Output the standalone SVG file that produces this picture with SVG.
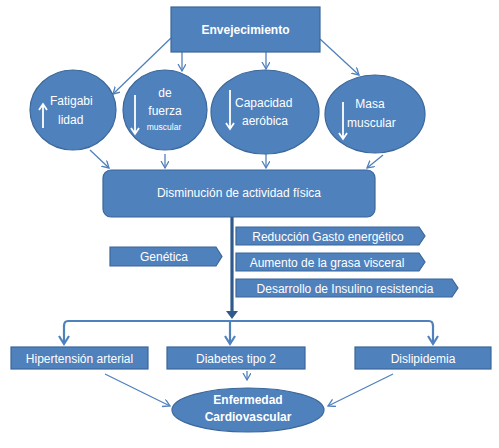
<svg xmlns="http://www.w3.org/2000/svg" width="499" height="448" viewBox="0 0 499 448">
<style>
.b{fill:#4F81BD;stroke:#3B679A;stroke-width:1.2}
.t{font-family:"Liberation Sans",Arial,sans-serif;fill:#fff;font-size:12px}
.bd{font-weight:bold}
.c{fill:none;stroke:#4F81BD;stroke-width:1.3}
.k{fill:none;stroke:#4F81BD;stroke-width:2.2}
.w{fill:none;stroke:#fff;stroke-width:1.8}
</style>
<defs>
<marker id="a" markerWidth="10" markerHeight="10" refX="7" refY="4" orient="auto" markerUnits="userSpaceOnUse"><path d="M0,0 L7,4 L0,8" fill="none" stroke="#4F81BD" stroke-width="1.3"/></marker>
<marker id="ab" markerWidth="14" markerHeight="14" refX="9" refY="6" orient="auto" markerUnits="userSpaceOnUse"><path d="M1,1 L9,6 L1,11" fill="none" stroke="#4F81BD" stroke-width="2.2"/></marker>
</defs>
<rect width="499" height="448" fill="#fff"/>
<g id="connectors">
<line class="c" x1="171" y1="38" x2="113" y2="94" marker-end="url(#a)"/>
<line class="c" x1="182" y1="52" x2="182" y2="71" marker-end="url(#a)"/>
<line class="c" x1="266" y1="52" x2="266" y2="69" marker-end="url(#a)"/>
<line class="c" x1="320" y1="39" x2="359" y2="75" marker-end="url(#a)"/>
<line class="c" x1="90" y1="150" x2="109" y2="168" marker-end="url(#a)"/>
<line class="c" x1="165" y1="154" x2="165" y2="168" marker-end="url(#a)"/>
<line class="c" x1="266" y1="154" x2="266" y2="168" marker-end="url(#a)"/>
<line class="c" x1="383" y1="155" x2="367" y2="168" marker-end="url(#a)"/>
<line x1="232" y1="217" x2="232" y2="312" stroke="#2F5B8C" stroke-width="3.2"/>
<path d="M226,311 L238,311 L232,319 Z" fill="#2F5B8C"/>
<path class="k" d="M64,326 Q64,321 68,321 H429 Q433,321 433,326"/>
<path class="k" d="M64,325 V344" marker-end="url(#ab)"/>
<path class="k" d="M230,321 V344" marker-end="url(#ab)"/>
<path class="k" d="M433,325 V344" marker-end="url(#ab)"/>
<line class="c" x1="105" y1="374" x2="170" y2="406" marker-end="url(#a)"/>
<line class="c" x1="247" y1="371" x2="247" y2="380" marker-end="url(#a)"/>
<line class="c" x1="393" y1="374" x2="328" y2="406" marker-end="url(#a)"/>
</g>
<g id="envejecimiento">
<rect class="b" x="171" y="7" width="149" height="45"/>
<text class="t bd" x="245.5" y="34" text-anchor="middle">Envejecimiento</text>
</g>
<g id="fatigabilidad">
<ellipse class="b" cx="73" cy="110" rx="43" ry="40"/>
<text class="t" x="50" y="105">Fatigabi</text>
<text class="t" x="58" y="124">lidad</text>
<path class="w" d="M43,128 V105 M39,110 L43,104 L47,110"/>
</g>
<g id="fuerza">
<ellipse class="b" cx="165" cy="110" rx="42" ry="40"/>
<text class="t" x="165" y="97" text-anchor="middle">de</text>
<text class="t" x="165" y="115" text-anchor="middle">fuerza</text>
<text class="t" x="164" y="130" text-anchor="middle" style="font-size:8.5px">muscular</text>
<path class="w" d="M135,95 V134 M131,128 L135,134 L139,128"/>
</g>
<g id="capacidad">
<ellipse class="b" cx="265" cy="112" rx="54" ry="42"/>
<text class="t" x="235" y="107">Capacidad</text>
<text class="t" x="242" y="125">aeróbica</text>
<path class="w" d="M230,90 V129 M226,123 L230,129 L234,123"/>
</g>
<g id="masa">
<ellipse class="b" cx="375" cy="114" rx="50" ry="39"/>
<text class="t" x="370" y="108" text-anchor="middle">Masa</text>
<text class="t" x="347" y="127">muscular</text>
<path class="w" d="M343,102 V139 M339,133 L343,139 L347,133"/>
</g>
<g id="disminucion">
<rect class="b" x="103" y="170" width="272" height="47" rx="8"/>
<text class="t" x="239" y="197" text-anchor="middle">Disminución de actividad física</text>
</g>
<g id="genetica">
<path class="b" d="M110,247 H216 L222,256.5 L216,266 H110 Z"/>
<text class="t" x="164" y="261" text-anchor="middle">Genética</text>
</g>
<g id="reduccion">
<path class="b" d="M236,227 H419 L425,236 L419,245 H236 Z"/>
<text class="t" x="328" y="240.5" text-anchor="middle">Reducción Gasto energético</text>
</g>
<g id="aumento">
<path class="b" d="M236,253 H419 L425,262 L419,271 H236 Z"/>
<text class="t" x="327" y="266.5" text-anchor="middle">Aumento de la grasa visceral</text>
</g>
<g id="desarrollo">
<path class="b" d="M236,279 H452 L458,288 L452,297 H236 Z"/>
<text class="t" x="345" y="292.5" text-anchor="middle">Desarrollo de Insulino resistencia</text>
</g>
<g id="hipertension">
<rect class="b" x="11" y="347" width="137" height="22"/>
<text class="t" x="79.5" y="362.5" text-anchor="middle">Hipertensión arterial</text>
</g>
<g id="diabetes">
<rect class="b" x="167" y="347" width="138" height="22"/>
<text class="t" x="236" y="362.5" text-anchor="middle">Diabetes tipo 2</text>
</g>
<g id="dislipidemia">
<rect class="b" x="355" y="347" width="136" height="22"/>
<text class="t" x="423" y="362.5" text-anchor="middle">Dislipidemia</text>
</g>
<g id="enfermedad">
<ellipse class="b" cx="248" cy="410" rx="76" ry="22"/>
<text class="t bd" x="248" y="404" text-anchor="middle">Enfermedad</text>
<text class="t bd" x="248" y="421" text-anchor="middle">Cardiovascular</text>
</g>
</svg>
